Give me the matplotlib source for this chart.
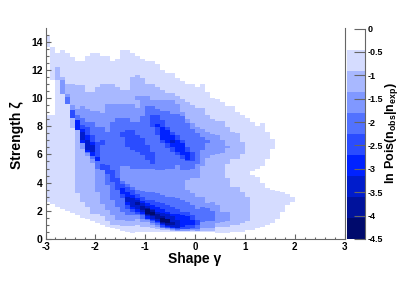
import numpy as np
import matplotlib
matplotlib.use("Agg")
import matplotlib.pyplot as plt
from matplotlib.colors import ListedColormap, BoundaryNorm
from matplotlib.ticker import MultipleLocator

plt.rcParams['font.family'] = ['Liberation Sans', 'DejaVu Sans']
plt.rcParams['mathtext.fontset'] = 'custom'
plt.rcParams['mathtext.rm'] = 'Liberation Sans:bold'
plt.rcParams['mathtext.bf'] = 'Liberation Sans:bold'

# colour bands, from the top of the z axis (white) to the bottom
band_colors = ['#ffffff', '#d5dcff', '#a8b8ff', '#8098ff', '#5272ff',
               '#2a4cff', '#0022ff', '#001ccc', '#00129c', '#000a6c']
z_edges = [-4.5, -4.05, -3.6, -3.15, -2.7, -2.25, -1.8, -1.35, -0.9, -0.45, 0]

gamma_edges = [-3 + 0.1 * i for i in range(61)]
z_ticks = [0, -0.5, -1, -1.5, -2, -2.5, -3, -3.5, -4, -4.5]
z_ticklabels = ['0', '-0.5', '-1', '-1.5', '-2', '-2.5', '-3', '-3.5', '-4', '-4.5']

# one line per gamma bin: band, upper zeta of that band, band, upper zeta, ...
columns = [
    [0,2.65, 1,8.8, 0,13.6, 1,14.4],
    [0,2.5, 1,8.8, 0,11.3, 1,13.6],
    [0,2.3, 1,11.3, 2,12.2, 1,13.2],
    [0,2.15, 1,10.3, 3,11.3, 2,11.5, 1,13.4],
    [0,2.0, 1,9.6, 4,10.1, 3,10.3, 2,11.0, 1,13.2],
    [0,1.85, 1,7.84, 2,8.55, 5,9.15, 3,9.5, 2,11.0, 1,12.9],
    [0,1.7, 1,3.24, 2,7.73, 6,8.44, 4,8.8, 3,9.2, 2,10.9, 1,12.6],
    [0,1.5, 1,2.65, 2,6.4, 3,6.8, 6,7.0, 7,7.6, 6,7.8, 5,8.1, 4,8.56, 3,9.43, 2,10.9, 1,12.6],
    [0,1.4, 1,2.3, 2,5.9, 3,6.1, 4,6.2, 6,6.3, 7,7.0, 6,7.4, 5,7.97, 4,8.32, 3,9.27, 2,10.4, 1,13.0],
    [0,1.25, 1,1.82, 2,5.4, 3,5.7, 4,5.9, 6,6.2, 7,6.65, 6,6.9, 5,7.38, 4,8.32, 3,9.1, 2,10.4, 1,13.2],
    [0,1.1, 1,1.82, 2,3.35, 3,5.0, 4,5.5, 6,5.84, 5,6.9, 4,7.97, 3,9.1, 2,10.8, 1,13.2],
    [0,1.0, 1,1.58, 2,2.5, 3,4.9, 5,5.37, 4,6.67, 5,7.0, 4,7.97, 3,8.96, 2,11.0, 1,13.0],
    [0,.85, 1,1.23, 2,2.05, 3,3.8, 4,4.6, 5,5.25, 4,7.61, 3,9.6, 2,11.0, 1,13.0],
    [0,.75, 1,1.0, 2,1.7, 3,2.76, 4,4.06, 5,4.89, 4,8.3, 3,9.6, 2,11.0, 1,12.6],
    [0,.7, 1,1.0, 2,1.35, 3,2.29, 4,3.47, 5,4.3, 4,8.56, 3,9.6, 2,10.8, 1,12.8],
    [0,.6, 1,.95, 2,1.35, 3,1.94, 4,2.88, 5,3.19, 6,3.59, 5,3.9, 4,4.1, 3,5.13, 4,7.2, 5,7.6, 4,8.56, 3,9.6, 2,10.57, 1,13.4],
    [0,.5, 1,.95, 2,1.23, 3,1.7, 4,2.17, 5,2.4, 6,2.65, 7,3.0, 6,3.35, 5,3.7, 4,3.9, 3,5.13, 4,6.55, 5,7.73, 4,8.56, 3,9.6, 2,10.57, 1,13.4],
    [0,.45, 1,.95, 2,1.23, 3,1.7, 4,1.94, 5,2.1, 6,2.29, 7,2.9, 6,3.1, 5,3.5, 4,3.7, 3,5.0, 4,6.32, 5,7.73, 4,8.3, 3,9.6, 2,11.5, 1,13.2],
    [0,.5, 1,.99, 2,1.46, 3,1.7, 4,1.82, 5,1.93, 6,2.17, 7,2.41, 8,2.64, 7,2.81, 6,2.88, 5,3.19, 4,3.47, 3,5.0, 4,6.2, 5,7.38, 4,8.3, 3,9.3, 2,9.85, 3,10.15, 2,11.58, 1,12.98],
    [0,.5, 1,.87, 2,1.22, 3,1.46, 4,1.7, 5,1.82, 6,1.93, 7,2.05, 8,2.34, 7,2.53, 6,2.71, 5,3.0, 4,3.42, 3,5.0, 4,5.96, 5,7.14, 4,8.68, 3,10.15, 2,11.4, 1,12.8],
    [0,.5, 1,.87, 2,1.22, 3,1.34, 4,1.39, 5,1.46, 6,1.58, 7,1.7, 8,1.82, 9,2.1, 8,2.22, 7,2.34, 6,2.53, 5,2.81, 4,3.35, 3,5.0, 4,5.6, 5,6.67, 4,9.39, 3,10.15, 2,11.0, 1,12.6],
    [0,.5, 1,.82, 2,.99, 3,1.15, 4,1.3, 5,1.34, 6,1.46, 7,1.58, 8,1.7, 9,1.93, 8,2.05, 7,2.17, 6,2.41, 5,2.81, 4,3.28, 3,5.0, 4,5.37, 5,6.2, 4,7.97, 5,8.8, 4,9.43, 3,9.86, 2,11.0, 1,12.6],
    [0,.5, 1,.68, 2,.87, 3,.99, 4,1.11, 5,1.22, 6,1.3, 7,1.46, 8,1.77, 7,1.93, 6,2.24, 5,2.64, 4,3.24, 3,4.9, 4,7.38, 5,7.97, 6,8.16, 5,8.8, 4,9.27, 3,9.86, 2,10.8, 1,12.4],
    [0,.5, 1,.63, 2,.73, 3,.82, 4,.87, 5,.99, 6,1.06, 7,1.16, 8,1.22, 9,1.51, 8,1.58, 7,1.87, 6,2.17, 5,2.53, 4,3.12, 3,4.9, 4,6.79, 5,7.02, 6,7.97, 5,8.44, 4,9.1, 3,9.86, 2,10.57, 1,11.98],
    [0,.5, 1,.63, 2,.7, 3,.75, 4,.8, 5,.87, 6,.92, 7,.99, 8,1.16, 9,1.39, 8,1.46, 7,1.77, 6,1.93, 5,2.41, 4,3.0, 3,4.95, 4,6.43, 5,6.79, 6,7.73, 5,7.97, 4,9.1, 3,9.86, 2,10.33, 1,11.8],
    [0,.5, 1,.6, 2,.65, 3,.7, 4,.75, 5,.8, 6,.87, 7,.99, 8,1.22, 7,1.58, 6,1.82, 5,2.29, 4,2.95, 3,5.0, 4,6.2, 5,6.55, 6,6.79, 7,7.02, 6,7.38, 5,7.61, 4,8.87, 3,9.86, 2,10.33, 1,11.8],
    [0,.5, 1,.6, 3,.65, 4,.7, 5,.75, 6,.8, 7,1.34, 6,1.82, 5,2.17, 4,2.88, 3,5.25, 4,5.96, 5,6.2, 6,7.02, 5,7.38, 4,8.87, 3,9.55, 2,10.14, 1,11.4],
    [0,.5, 1,.6, 3,.68, 5,.87, 6,1.7, 5,1.93, 4,2.76, 3,4.9, 4,5.72, 5,5.96, 6,6.79, 5,7.07, 4,8.68, 3,9.0, 2,9.97, 1,11.2],
    [0,.5, 1,.6, 3,.68, 5,1.0, 6,1.58, 5,1.93, 4,2.64, 3,3.47, 2,4.18, 3,4.9, 4,5.49, 5,5.6, 6,6.2, 5,6.55, 4,8.2, 3,8.5, 2,9.73, 1,11.0],
    [0,.5, 1,.6, 2,.63, 3,.68, 4,.8, 5,1.0, 6,1.34, 5,1.7, 4,2.41, 3,3.24, 2,4.3, 3,5.0, 4,5.5, 5,6.2, 4,7.8, 3,8.2, 2,9.5, 1,11.0],
    [0,.5, 1,.6, 3,.68, 4,1.0, 5,1.34, 4,2.17, 3,3.0, 2,4.3, 3,5.37, 4,7.5, 3,7.95, 2,9.3, 1,10.8],
    [0,.5, 1,.6, 2,.75, 3,1.2, 4,2.3, 3,3.0, 2,5.13, 3,6.3, 4,7.2, 3,7.8, 2,9.3, 1,11.0],
    [0,.5, 1,.6, 2,.8, 3,1.3, 4,2.2, 3,2.53, 2,5.73, 3,6.8, 4,7.0, 3,7.6, 2,8.8, 1,10.4],
    [0,.5, 1,.6, 2,.8, 3,1.3, 4,2.0, 3,2.64, 2,5.96, 3,7.45, 2,8.5, 1,10.0],
    [0,.45, 1,.87, 2,1.1, 3,2.4, 2,6.0, 3,7.37, 2,8.4, 1,9.97],
    [0,.45, 1,.87, 2,1.2, 3,1.95, 2,6.1, 3,6.98, 2,8.4, 1,9.7],
    [0,.45, 1,.87, 2,1.26, 3,1.9, 2,4.3, 1,5.36, 2,6.45, 3,6.6, 2,7.96, 1,9.4],
    [0,.5, 1,.99, 2,3.7, 1,5.7, 2,7.6, 1,9.4],
    [0,.5, 1,.99, 2,3.7, 1,5.7, 2,7.5, 1,8.98],
    [0,.5, 1,1.1, 2,3.35, 1,6.0, 2,6.85, 1,8.8],
    [0,.64, 1,1.23, 2,3.0, 1,8.6],
    [0,.64, 1,4.55, 0,4.8, 1,8.3],
    [0,.75, 1,4.42, 0,5.0, 1,8.0],
    [0,.87, 1,3.95, 0,5.2, 1,8.2],
    [0,1.0, 1,3.6, 0,5.7, 1,7.6],
    [0,1.1, 1,3.5, 0,6.42, 1,7.1],
    [0,1.47, 1,3.4],
    [0,1.95, 1,3.35],
    [0,2.4, 1,3.2],
    [0,2.65, 1,3.0],
]


def tickstyle(ax):
    ax.tick_params(which='major', length=3.6, width=0.8, color='#666666', pad=2)
    ax.tick_params(which='minor', length=1.8, width=0.8, color='#666666')


# fill the grid from the bands, white above the last band of a column
zeta_edges = np.arange(0, 15.01, 0.05)
zeta_mid = (zeta_edges[:-1] + zeta_edges[1:]) / 2
band = np.zeros((len(zeta_mid), len(gamma_edges) - 1), dtype=int)
for i, col in enumerate(columns):
    low = 0
    for level, top in zip(col[::2], col[1::2]):
        band[(zeta_mid >= low) & (zeta_mid < top), i] = level
        low = top
z = -0.45 * band - 0.2

cmap = ListedColormap(band_colors[::-1])
norm = BoundaryNorm(z_edges, cmap.N)

fig = plt.figure(figsize=(4.15, 2.82), dpi=100)
W, H = 415.0, 282.0
ax = fig.add_axes([45.5 / W, 1 - 239 / H, 299 / W, 210.5 / H])
ax.pcolormesh(gamma_edges, zeta_edges, z, cmap=cmap, norm=norm)
ax.set_xlim(-3, 3)
ax.set_ylim(0, 14.93)
ax.spines['top'].set_visible(False)
for s in ['left', 'bottom', 'right']:
    ax.spines[s].set_color('#666666')
    ax.spines[s].set_linewidth(0.8)
ax.xaxis.set_major_locator(MultipleLocator(1))
ax.xaxis.set_minor_locator(MultipleLocator(0.2))
ax.yaxis.set_major_locator(MultipleLocator(2))
ax.yaxis.set_minor_locator(MultipleLocator(0.5))
ax.tick_params(which='both', direction='in', top=False, right=False)
tickstyle(ax)
ax.set_xticks(range(-3, 4))
ax.set_xticklabels(['-3', '-2', '-1', '0', '1', '2', '3'], fontsize=7, fontweight='bold')
ax.set_yticks(range(0, 15, 2))
ax.set_yticklabels([str(v) for v in range(0, 15, 2)], fontsize=7.5, fontweight='bold')

fig.text(195 / W, 1 - 259 / H, 'Shape γ', fontsize=10, fontweight='bold', ha='center', va='center')
fig.text(17 / W, 1 - 135 / H, 'Strength ζ', fontsize=10, fontweight='bold', rotation=90,
         ha='center', va='center')

# colour bar, its axis sits on the right side with ticks pointing left
cax = fig.add_axes([346.5 / W, 1 - 239 / H, 18.5 / W, 210.5 / H])
cax.pcolormesh([0, 1], z_edges, np.array(z_edges[:-1]).reshape(-1, 1) + 0.2, cmap=cmap, norm=norm)
cax.set_ylim(-4.5, 0)
cax.set_xticks([])
for s in ['left', 'top', 'bottom']:
    cax.spines[s].set_visible(False)
cax.spines['right'].set_color('#666666')
cax.spines['right'].set_linewidth(0.8)
cax.yaxis.tick_right()
cax.set_yticks(z_ticks)
cax.set_yticklabels(z_ticklabels, fontsize=6.5, fontweight='bold')
cax.tick_params(axis='y', direction='in', length=8, width=0.8, color='#666666', pad=2)

fig.text(391 / W, 1 - 133 / H, r'$\mathrm{ln\ Pois(n_{obs}|n_{exp})}$', fontsize=9, rotation=90,
         ha='center', va='center')

fig.savefig('out.png', dpi=100)
